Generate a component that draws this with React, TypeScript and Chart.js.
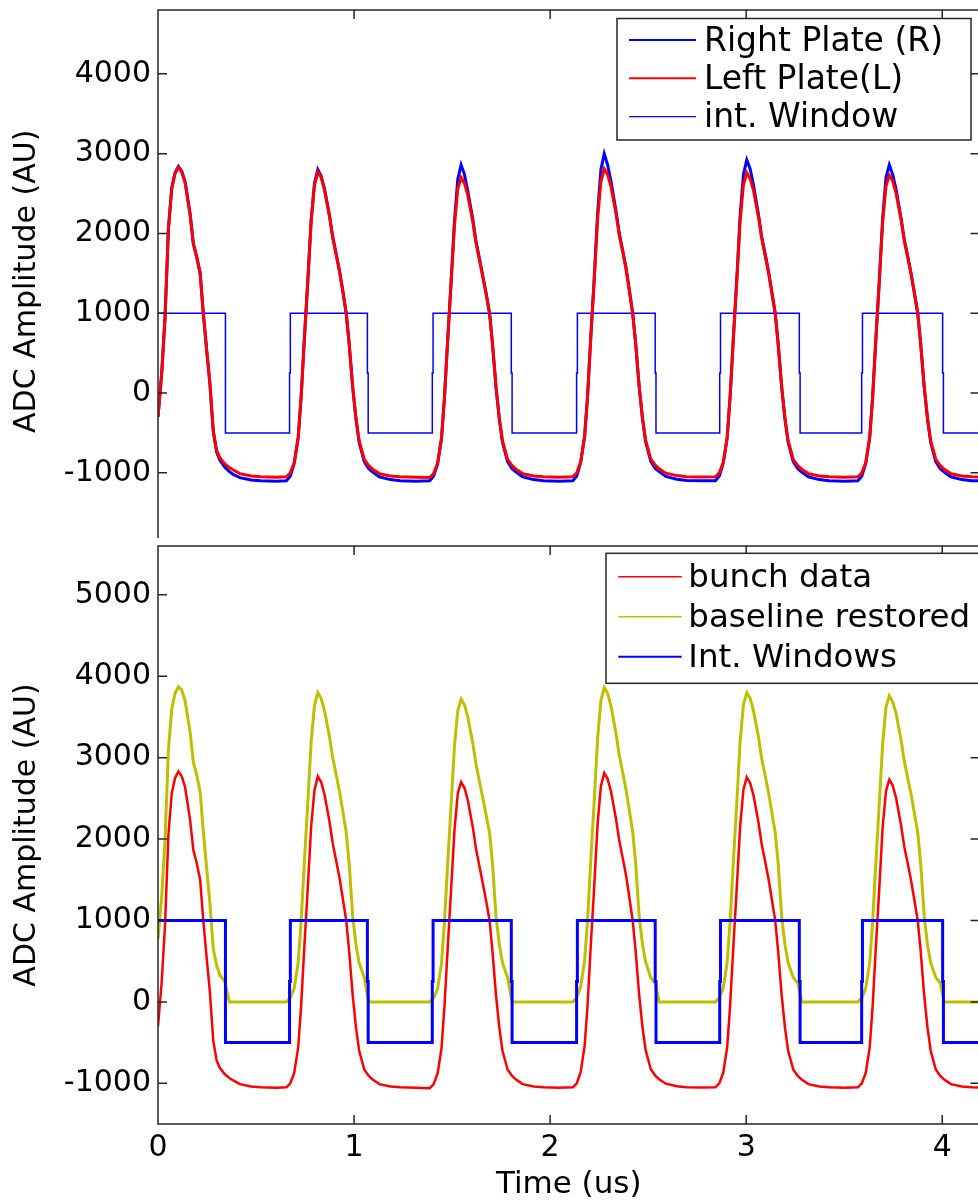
import React, { useEffect, useRef } from 'react';
import { Chart, registerables } from 'chart.js';

Chart.register(...registerables);

const FONT = '"DejaVu Sans", Verdana, sans-serif';

// Sample times (us) shared by the plate / bunch traces
const timeUs = [
  0, 0.019, 0.036, 0.053, 0.07, 0.087, 0.104, 0.121, 0.138, 0.164, 0.18, 0.198, 0.215, 0.231, 0.249, 0.264, 0.282, 0.299, 0.315, 0.341, 0.364, 0.384, 0.418, 0.474, 0.524, 0.604,
  0.655, 0.675, 0.695, 0.715, 0.73, 0.747, 0.764, 0.781, 0.798, 0.815, 0.832, 0.849, 0.875, 0.891, 0.909, 0.926, 0.942, 0.96, 0.975, 0.993, 1.01, 1.026, 1.052, 1.075, 1.095, 1.129, 1.185, 1.235, 1.315,
  1.386, 1.406, 1.426, 1.446, 1.461, 1.478, 1.495, 1.512, 1.529, 1.546, 1.563, 1.58, 1.606, 1.622, 1.64, 1.657, 1.673, 1.691, 1.706, 1.724, 1.741, 1.757, 1.783, 1.806, 1.826, 1.86, 1.916, 1.966, 2.046,
  2.116, 2.136, 2.156, 2.176, 2.191, 2.208, 2.225, 2.242, 2.259, 2.276, 2.293, 2.31, 2.336, 2.352, 2.37, 2.387, 2.403, 2.421, 2.436, 2.454, 2.471, 2.487, 2.513, 2.536, 2.556, 2.59, 2.646, 2.696, 2.776,
  2.843, 2.863, 2.883, 2.903, 2.918, 2.935, 2.952, 2.969, 2.986, 3.003, 3.02, 3.037, 3.063, 3.079, 3.097, 3.114, 3.13, 3.148, 3.163, 3.181, 3.198, 3.214, 3.24, 3.263, 3.283, 3.317, 3.373, 3.423, 3.503,
  3.57, 3.59, 3.61, 3.63, 3.645, 3.662, 3.679, 3.696, 3.713, 3.73, 3.747, 3.764, 3.79, 3.806, 3.824, 3.841, 3.857, 3.875, 3.89, 3.908, 3.925, 3.941, 3.967, 3.99, 4.01, 4.044, 4.1, 4.15, 4.19,
];

// Right plate pick-up (AU)
const rightPlate = [
  -300, 250, 950, 2050, 2570, 2760, 2840, 2780, 2650, 2240, 1880, 1700, 1500, 1000, 520, 140, -480, -740, -840, -930, -985, -1020, -1060, -1090, -1100, -1105,
  -1100, -1040, -880, -560, -50, 700, 1400, 2160, 2630, 2800, 2720, 2560, 2220, 1960, 1740, 1530, 1290, 1000, 620, 70, -330, -620, -860, -950, -990, -1050, -1085, -1100, -1105,
  -1100, -1040, -890, -570, -60, 690, 1400, 2150, 2680, 2860, 2740, 2530, 2170, 1900, 1680, 1460, 1260, 1000, 620, 70, -330, -620, -860, -950, -990, -1050, -1085, -1100, -1105,
  -1100, -1040, -870, -540, -40, 730, 1440, 2250, 2800, 3000, 2860, 2660, 2280, 2010, 1790, 1570, 1310, 1000, 630, 80, -320, -610, -855, -945, -985, -1045, -1080, -1095, -1100,
  -1100, -1040, -880, -560, -50, 710, 1420, 2220, 2740, 2920, 2810, 2610, 2230, 1960, 1740, 1520, 1280, 1000, 620, 70, -330, -620, -860, -950, -990, -1050, -1085, -1100, -1105,
  -1100, -1040, -880, -560, -50, 700, 1410, 2190, 2700, 2860, 2740, 2560, 2190, 1930, 1710, 1500, 1270, 1000, 620, 70, -330, -620, -860, -950, -990, -1050, -1085, -1100, -1100,
];

// Left plate pick-up, also the raw bunch data (AU)
const leftPlate = [
  -300, 250, 950, 2050, 2560, 2750, 2830, 2770, 2640, 2230, 1870, 1700, 1500, 1000, 520, 140, -480, -720, -810, -890, -935, -965, -1010, -1040, -1050, -1055,
  -1050, -1000, -870, -560, -50, 700, 1400, 2150, 2600, 2770, 2700, 2550, 2210, 1950, 1730, 1520, 1280, 1000, 620, 80, -320, -600, -830, -910, -955, -1010, -1040, -1050, -1055,
  -1060, -1010, -880, -570, -60, 680, 1380, 2100, 2560, 2700, 2630, 2480, 2140, 1880, 1660, 1450, 1250, 1000, 620, 80, -320, -600, -830, -910, -955, -1010, -1040, -1050, -1055,
  -1050, -1000, -860, -540, -40, 720, 1420, 2180, 2650, 2810, 2740, 2590, 2250, 1990, 1770, 1560, 1300, 1000, 630, 90, -310, -590, -825, -905, -950, -1005, -1035, -1048, -1052,
  -1050, -1000, -870, -560, -50, 700, 1400, 2150, 2610, 2760, 2690, 2540, 2200, 1940, 1720, 1510, 1270, 1000, 620, 80, -320, -600, -830, -910, -955, -1010, -1040, -1050, -1055,
  -1050, -1000, -870, -560, -50, 700, 1400, 2140, 2590, 2730, 2660, 2510, 2170, 1910, 1700, 1490, 1260, 1000, 620, 80, -320, -600, -830, -910, -955, -1010, -1040, -1050, -1052,
];

// Bunch data after baseline restoration (AU)
const baselineRestored = [
  770, 1300, 1990, 3090, 3600, 3790, 3870, 3830, 3700, 3310, 2950, 2780, 2580, 2100, 1620, 1230, 650, 450, 330, 250, 0, 0, 0, 0, 0, 0,
  0, 50, 170, 480, 990, 1740, 2440, 3190, 3640, 3800, 3730, 3580, 3250, 3000, 2790, 2580, 2350, 2080, 1700, 1050, 700, 480, 300, 0, 0, 0, 0, 0, 0,
  0, 50, 160, 470, 980, 1720, 2420, 3140, 3580, 3720, 3650, 3500, 3170, 2920, 2700, 2500, 2300, 2080, 1700, 1050, 700, 480, 300, 0, 0, 0, 0, 0, 0,
  0, 50, 190, 510, 1010, 1770, 2470, 3230, 3700, 3860, 3790, 3640, 3300, 3040, 2820, 2610, 2370, 2090, 1710, 1060, 710, 490, 300, 230, 0, 0, 0, 0, 0,
  0, 50, 170, 480, 990, 1740, 2440, 3190, 3650, 3800, 3730, 3580, 3250, 2990, 2780, 2570, 2340, 2080, 1700, 1050, 700, 480, 300, 230, 0, 0, 0, 0, 0,
  0, 50, 170, 480, 990, 1740, 2440, 3170, 3620, 3760, 3690, 3550, 3220, 2960, 2750, 2550, 2330, 2080, 1700, 1050, 700, 480, 300, 230, 0, 0, 0, 0, 0,
];

// Integration window gate: each level holds until the next edge time
const windowTimes = [
  0, 0.344, 0.671, 0.675, 1.068, 1.072, 1.399, 1.403, 1.802, 1.806, 2.135, 2.139,
  2.536, 2.54, 2.865, 2.869, 3.271, 3.275, 3.589, 3.593, 4.002, 4.006, 4.19,
];
const windowLevels = [
  1000, -500, 250, 1000, 250, -500, 250, 1000, 250, -500, 250, 1000,
  250, -500, 250, 1000, 250, -500, 250, 1000, 250, -500, -500,
];

const timeTicks = [0, 1, 2, 3, 4];
const upperAmpTicks = [-1000, 0, 1000, 2000, 3000, 4000];
const lowerAmpTicks = [-1000, 0, 1000, 2000, 3000, 4000, 5000];

const RED = '#ff0000';
const BLUE = '#0000ff';
const OLIVE = '#bfbf00';
const AXIS = '#262626';

const pts = (xs: number[], ys: number[]) => xs.map((x, i) => ({ x, y: ys[i] }));

// Boxed axes with inward tick marks on all four sides
const frame = {
  id: 'frame',
  afterDatasetsDraw(chart: any, _args: any, o: any) {
    const { ctx, chartArea: a, scales } = chart;
    const L = o.tick;
    ctx.save();
    ctx.strokeStyle = o.color;
    ctx.lineWidth = o.width;
    ctx.beginPath();
    ctx.rect(a.left, a.top, a.right - a.left, a.bottom - a.top);
    for (const v of o.xTicks) {
      const px = scales.x.getPixelForValue(v);
      ctx.moveTo(px, a.top);
      ctx.lineTo(px, a.top + L);
      ctx.moveTo(px, a.bottom);
      ctx.lineTo(px, a.bottom - L);
    }
    for (const v of o.yTicks) {
      const py = scales.y.getPixelForValue(v);
      ctx.moveTo(a.left, py);
      ctx.lineTo(a.left + L, py);
      ctx.moveTo(a.right, py);
      ctx.lineTo(a.right - L, py);
    }
    ctx.stroke();
    ctx.restore();
  },
};

// Framed legend drawn inside the plot
const boxLegend = {
  id: 'boxLegend',
  afterDraw(chart: any, _args: any, o: any) {
    const { ctx } = chart;
    ctx.save();
    ctx.fillStyle = '#ffffff';
    ctx.fillRect(o.left, o.top, o.width, o.height);
    ctx.strokeStyle = AXIS;
    ctx.lineWidth = 1.5;
    ctx.strokeRect(o.left, o.top, o.width, o.height);
    ctx.font = `${o.fontSize}px ${FONT}`;
    ctx.textBaseline = 'middle';
    ctx.textAlign = 'left';
    o.items.forEach((it: any, i: number) => {
      const ds = chart.data.datasets[it.ds];
      const y = o.firstRow + i * o.rowGap;
      ctx.strokeStyle = ds.borderColor;
      ctx.lineWidth = it.w;
      ctx.beginPath();
      ctx.moveTo(o.lineStart, y);
      ctx.lineTo(o.lineEnd, y);
      ctx.stroke();
      ctx.fillStyle = '#000000';
      ctx.fillText(ds.label, o.textX, y + 2);
    });
    ctx.restore();
  },
};

function yAxis(min: number, max: number, ticks: number[]) {
  return {
    type: 'linear',
    min,
    max,
    afterBuildTicks: (s: any) => {
      s.ticks = ticks.map((v) => ({ value: v }));
    },
    afterFit: (s: any) => {
      s.width = 158;
      s.paddingTop = 0;
      s.paddingBottom = 0;
    },
    grid: { display: false, drawTicks: false },
    border: { display: false },
    ticks: {
      padding: 7,
      color: '#000',
      font: { family: FONT, size: 30 },
      callback: (v: any) => String(v),
    },
    title: {
      display: true,
      text: 'ADC Amplitude (AU)',
      color: '#000',
      font: { family: FONT, size: 30 },
      padding: { top: 9, bottom: 0 },
    },
  };
}

function line(label: string, color: string, width: number, data: any[], stepped = false) {
  return {
    label,
    data,
    borderColor: color,
    backgroundColor: color,
    borderWidth: width,
    pointRadius: 0,
    tension: 0,
    fill: false,
    stepped: stepped ? 'before' : false,
  };
}

export default function App() {
  const upperRef = useRef<HTMLCanvasElement>(null);
  const lowerRef = useRef<HTMLCanvasElement>(null);

  useEffect(() => {
    const upper = new Chart(upperRef.current as HTMLCanvasElement, {
      type: 'line',
      data: {
        datasets: [
          line('Left Plate(L)', RED, 3, pts(timeUs, leftPlate)),
          line('Right Plate (R)', BLUE, 3, pts(timeUs, rightPlate)),
          line('int. Window', BLUE, 1.5, pts(windowTimes, windowLevels), true),
        ],
      },
      options: {
        responsive: false,
        animation: false,
        events: [],
        layout: { padding: { left: 0, top: 10, right: 20.5, bottom: 27.4 } },
        scales: {
          x: { type: 'linear', min: 0, max: 4.19, display: false },
          y: yAxis(-2000, 4800, upperAmpTicks),
        },
        plugins: {
          legend: { display: false },
          tooltip: { enabled: false },
          frame: { color: AXIS, width: 1.5, tick: 9, xTicks: timeTicks, yTicks: upperAmpTicks },
          boxLegend: {
            left: 617, top: 18.5, width: 354, height: 121.5,
            lineStart: 629, lineEnd: 696, textX: 704,
            firstRow: 40, rowGap: 38.3, fontSize: 33,
            items: [{ ds: 1, w: 2 }, { ds: 0, w: 2 }, { ds: 2, w: 1.3 }],
          },
        },
      } as any,
      plugins: [frame, boxLegend],
    });

    const lower = new Chart(lowerRef.current as HTMLCanvasElement, {
      type: 'line',
      data: {
        datasets: [
          line('Int. Windows', BLUE, 3, pts(windowTimes, windowLevels), true),
          line('baseline restored', OLIVE, 3, pts(timeUs, baselineRestored)),
          line('bunch data', RED, 2.5, pts(timeUs, leftPlate)),
        ],
      },
      options: {
        responsive: false,
        animation: false,
        events: [],
        layout: { padding: { left: 0, top: 6, right: 20.5, bottom: 0 } },
        scales: {
          x: {
            type: 'linear',
            min: 0,
            max: 4.19,
            afterBuildTicks: (s: any) => {
              s.ticks = timeTicks.map((v) => ({ value: v }));
            },
            afterFit: (s: any) => {
              s.height = 76;
              s.paddingLeft = 0;
              s.paddingRight = 0;
            },
            grid: { display: false, drawTicks: false },
            border: { display: false },
            ticks: {
              padding: 6,
              color: '#000',
              maxRotation: 0,
              autoSkip: false,
              font: { family: FONT, size: 30 },
              callback: (v: any) => String(v),
            },
            title: {
              display: true,
              text: 'Time (us)',
              color: '#000',
              font: { family: FONT, size: 31, lineHeight: 1 },
              padding: { top: 0, bottom: 0 },
            },
          },
          y: yAxis(-1500, 5600, lowerAmpTicks),
        },
        plugins: {
          legend: { display: false },
          tooltip: { enabled: false },
          frame: { color: AXIS, width: 1.5, tick: 9, xTicks: timeTicks, yTicks: lowerAmpTicks },
          boxLegend: {
            left: 606, top: 13.3, width: 400, height: 130,
            lineStart: 618.3, lineEnd: 681.7, textX: 688.3,
            firstRow: 36.7, rowGap: 40, fontSize: 32.5,
            items: [{ ds: 2, w: 1.5 }, { ds: 1, w: 1.5 }, { ds: 0, w: 2 }],
          },
        },
      } as any,
      plugins: [frame, boxLegend],
    });

    return () => {
      upper.destroy();
      lower.destroy();
    };
  }, []);

  return (
    <div
      style={{
        position: 'fixed',
        left: 0,
        top: 0,
        width: 978,
        height: 1200,
        overflow: 'hidden',
        background: '#ffffff',
      }}
    >
      <div style={{ position: 'absolute', left: 0, top: 0, width: 978, height: 538, overflow: 'hidden' }}>
        <canvas ref={upperRef} width={1000} height={580} style={{ display: 'block', width: 1000, height: 580 }} />
      </div>
      <div style={{ position: 'absolute', left: 0, top: 540, width: 978, height: 660, overflow: 'hidden' }}>
        <canvas ref={lowerRef} width={1000} height={660} style={{ display: 'block', width: 1000, height: 660 }} />
      </div>
    </div>
  );
}
